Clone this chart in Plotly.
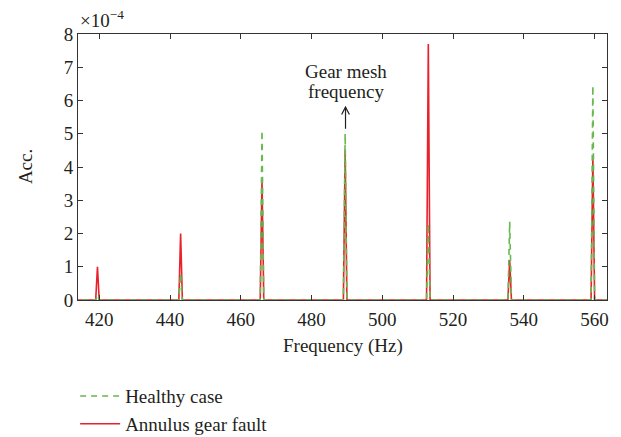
import numpy as np
import plotly.graph_objects as go

# Spectral lines (Hz) and their amplitudes (x1e-4) for the two cases
peak_freqs = [419.6, 442.9, 466.2, 489.6, 512.9, 536.2, 559.5]
healthy_amp = [0.15, 0.8, 5.1, 5.0, 2.3, 2.35, 6.45]
fault_amp = [1.0, 2.0, 3.6, 4.5, 7.7, 1.2, 4.3]

x_ticks = [420, 440, 460, 480, 500, 520, 540, 560]
y_ticks = [0, 1, 2, 3, 4, 5, 6, 7, 8]

# Frequency grid of the spectrum
freq = np.round(np.arange(412.0, 565.0, 0.5), 2)


def spectrum(amps):
    s = np.zeros_like(freq)
    for f, a in zip(peak_freqs, amps):
        i = int(np.argmin(np.abs(freq - f)))
        s[i] = a
    return s


healthy = spectrum(healthy_amp)
fault = spectrum(fault_amp)

GREEN = "#66b84f"
RED = "#e8212b"
FONT = "Liberation Serif"
INK = "#231f20"
FS = 19
TXT = dict(family=FONT, size=FS, color=INK)

fig = go.Figure()
fig.add_trace(go.Scatter(
    x=freq, y=fault, mode="lines", name="Annulus gear fault",
    line=dict(color=RED, width=1.6), legendrank=2,
))
fig.add_trace(go.Scatter(
    x=freq, y=healthy, mode="lines", name="Healthy case",
    line=dict(color=GREEN, width=1.6, dash="6px,5px"), legendrank=1,
))

axis_common = dict(
    showline=True, linecolor="#333333", linewidth=1, mirror="ticks",
    ticks="inside", ticklen=5, tickcolor="#333333", showgrid=False,
    zeroline=False, tickfont=TXT,
)

fig.update_xaxes(range=[414, 563.5], tickvals=x_ticks, ticklabelstandoff=2, **axis_common)
fig.update_yaxes(range=[0, 8], tickvals=y_ticks, **axis_common)

# Axis titles
fig.add_annotation(
    xref="paper", yref="paper", x=0.5, y=-0.173, xanchor="center", yanchor="middle",
    text="Frequency (Hz)", showarrow=False, font=TXT,
)
fig.add_annotation(
    xref="paper", yref="paper", x=-0.1, y=0.5, xanchor="center", yanchor="middle",
    text="Acc.", textangle=-90, showarrow=False, font=TXT,
)
# Scale factor of the y axis
fig.add_annotation(
    xref="paper", yref="paper", x=0.0, y=1.0, xanchor="left", yanchor="bottom",
    text="×10<sup>−4</sup>", showarrow=False, yshift=1, font=TXT,
)
# Two-line label above the mesh-frequency peak
fig.add_annotation(
    x=489.6, y=6.88, xref="x", yref="y", yanchor="middle",
    text="Gear mesh", showarrow=False, font=TXT,
)
fig.add_annotation(
    x=489.6, y=6.28, xref="x", yref="y", yanchor="middle",
    text="frequency", showarrow=False, font=TXT,
)
# Upward arrow beneath the label
fig.add_shape(type="line", x0=489.6, x1=489.6, y0=5.15, y1=5.8, xref="x", yref="y",
              line=dict(color=INK, width=1.2))
fig.add_shape(type="path", xref="x", yref="y",
              path="M 488.5 5.58 L 489.6 5.8 L 490.7 5.58",
              line=dict(color=INK, width=1.2))

fig.update_layout(
    width=621, height=437,
    margin=dict(l=78, r=14, t=34, b=137, autoexpand=False),
    paper_bgcolor="white", plot_bgcolor="white",
    showlegend=True,
    legend=dict(
        xref="container", yref="container",
        x=0.121, y=0.137, xanchor="left", yanchor="top",
        font=TXT, bgcolor="rgba(0,0,0,0)", tracegroupgap=0, itemwidth=40,
    ),
)

fig.write_html("out.html")
